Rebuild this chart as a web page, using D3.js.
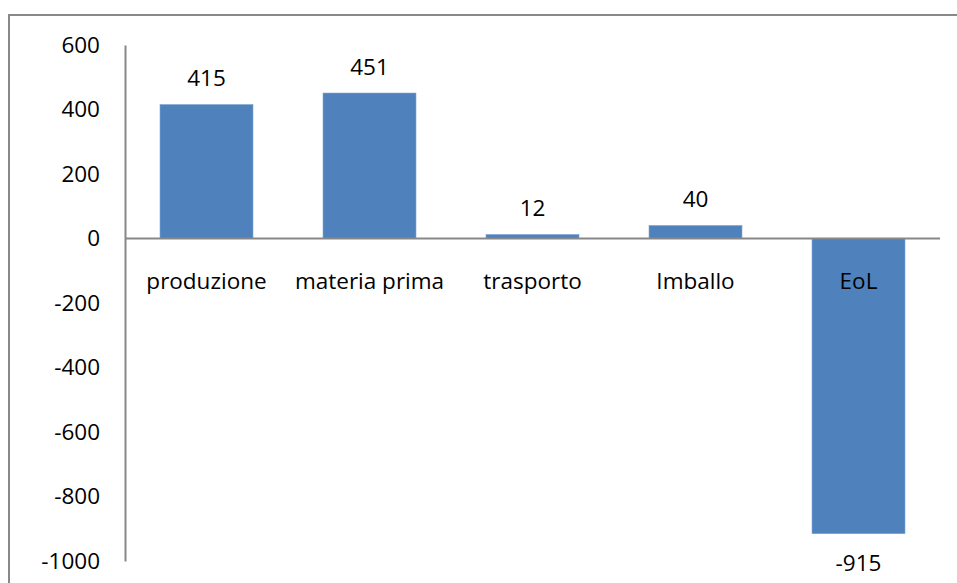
<!DOCTYPE html>
<html>
<head>
<meta charset="utf-8">
<script src="https://cdn.jsdelivr.net/npm/d3@7"></script>
<style>
  body { margin: 0; background: #fff; }
  svg text { font-family: "Open Sans", sans-serif; fill: #000; }
</style>
</head>
<body>
<svg id="chart"></svg>
<script>
// dati
let categories = ["produzione", "materia prima", "trasporto", "Imballo", "EoL"];
let values = [415, 451, 12, 40, -915];
let y_ticks = [600, 400, 200, 0, -200, -400, -600, -800, -1000];

let font_size = 22.5;

function draw_chart() {
    let width = 957, height = 583;
    let svg = d3.select('#chart').attr('width', width).attr('height', height);

    // cornice esterna
    svg.append('rect')
        .attr('x', 9).attr('y', 15)
        .attr('width', width).attr('height', height)
        .attr('fill', 'none')
        .attr('stroke', '#888')
        .attr('stroke-width', 2);

    let margin = ({ top: 45, right: 17, bottom: 22, left: 125 });
    let x = d3.scaleBand(categories, [margin.left, width - margin.right]).paddingInner(0.43).paddingOuter(0.215);
    let y = d3.scaleLinear([-1000, 600], [height - margin.bottom, margin.top]);

    // asse y
    let yAxis = g => g
        .attr('transform', `translate(${margin.left},0)`)
        .call(d3.axisLeft(y).tickValues(y_ticks).tickFormat(d => String(d)).tickSize(0).tickPadding(25))
        .call(g => g.select('.domain').attr('stroke', '#888').attr('stroke-width', 2))
        .call(g => g.selectAll('text').attr('font-size', font_size).style('font-family', '"Open Sans", sans-serif'));
    svg.append('g').call(yAxis);

    // barre
    svg.append('g')
        .selectAll('rect')
        .data(values)
        .join('rect')
        .attr('x', (d, i) => x(categories[i]))
        .attr('width', x.bandwidth())
        .attr('y', d => y(Math.max(0, d)))
        .attr('height', d => Math.abs(y(d) - y(0)))
        .attr('fill', '#4F81BD')
        .attr('stroke', '#6f9bd0')
        .attr('stroke-width', 0.6);

    // linea dello zero
    svg.append('line')
        .attr('x1', margin.left).attr('x2', width - margin.right)
        .attr('y1', y(0)).attr('y2', y(0))
        .attr('stroke', '#888').attr('stroke-width', 2);

    // etichette categorie
    svg.append('g')
        .selectAll('text')
        .data(categories)
        .join('text')
        .attr('x', d => x(d) + x.bandwidth() / 2)
        .attr('y', y(0) + 50)
        .attr('text-anchor', 'middle')
        .attr('font-size', font_size)
        .text(d => d);

    // etichette valori
    svg.append('g')
        .selectAll('text')
        .data(values)
        .join('text')
        .attr('x', (d, i) => x(categories[i]) + x.bandwidth() / 2)
        .attr('y', d => d >= 0 ? y(d) - 18.5 : y(d) + 37)
        .attr('text-anchor', 'middle')
        .attr('font-size', font_size)
        .text(d => d);
}

draw_chart();
</script>
</body>
</html>
